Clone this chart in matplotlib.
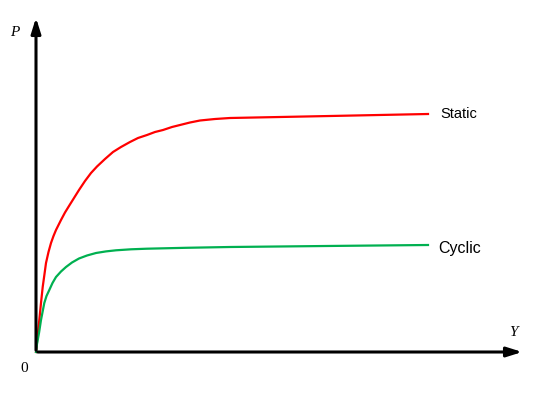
import numpy as np
import matplotlib
matplotlib.use('Agg')
import matplotlib.pyplot as plt

# curves (x = displacement Y, y = load P, arbitrary units)
static_x = [0, 1.5, 3.3, 5, 6.7, 8.5, 10, 12.5, 15, 17.5, 20, 25, 29, 33, 38, 43, 49, 55, 61, 69, 77, 85,
            94, 102, 111, 119, 127, 136, 144, 154, 164, 179, 194, 219, 244, 294, 343, 392]
static_y = [0, 15, 32, 49, 65, 78, 89, 100, 109, 116, 122, 132, 139.5, 146, 154, 162, 171, 179, 185.5, 193, 200, 205,
            210, 214, 217, 220, 222, 225, 227, 229.5, 231.5, 233, 234, 234.5, 235, 236, 237, 238]

cyclic_x = [0, 1, 3, 5, 8.3, 10.5, 13.3, 16.5, 20, 25, 30, 36, 43, 51, 60, 70, 80, 95, 111, 150, 194, 290, 392]
cyclic_y = [0, 8, 19, 32, 49, 56, 62, 69, 75, 80.5, 85, 89.5, 93.5, 96.5, 99, 100.6, 101.7, 102.7, 103.3, 104.2, 105, 106, 107]

labels = ['Static', 'Cyclic']

fig = plt.figure(figsize=(5.5, 3.95), dpi=100)
ax = fig.add_axes([0, 0, 1, 1])
ax.set_xlim(-36, 514)
ax.set_ylim(-43, 352)
ax.axis('off')

ax.plot(static_x, static_y, color='#ff0000', lw=1.6, solid_joinstyle='round')
ax.plot(cyclic_x, cyclic_y, color='#00b050', lw=1.6, solid_joinstyle='round')

# axes with arrow heads
arrow = dict(arrowstyle='-|>,head_length=0.7,head_width=0.22', lw=2.2,
             color='black', mutation_scale=13)
ax.annotate('', xy=(489, 0), xytext=(-1, 0), arrowprops=arrow)
ax.annotate('', xy=(0, 337), xytext=(0, -1), arrowprops=arrow)

ax.text(static_x[-1] + 12, static_y[-1], labels[0], fontsize=10.5,
        family='Liberation Sans', ha='left', va='center')
ax.text(cyclic_x[-1] + 10, cyclic_y[-1] - 3, labels[1], fontsize=11.5,
        family='Liberation Sans', ha='left', va='center')

ax.text(-21, 320, 'P', fontsize=11, family='Liberation Serif', style='italic',
        ha='center', va='center')
ax.text(477, 19, 'Y', fontsize=11, family='Liberation Serif', style='italic',
        ha='center', va='center')
ax.text(-12, -17, '0', fontsize=11, family='Liberation Serif',
        ha='center', va='center')

fig.savefig('out.png', dpi=100)
